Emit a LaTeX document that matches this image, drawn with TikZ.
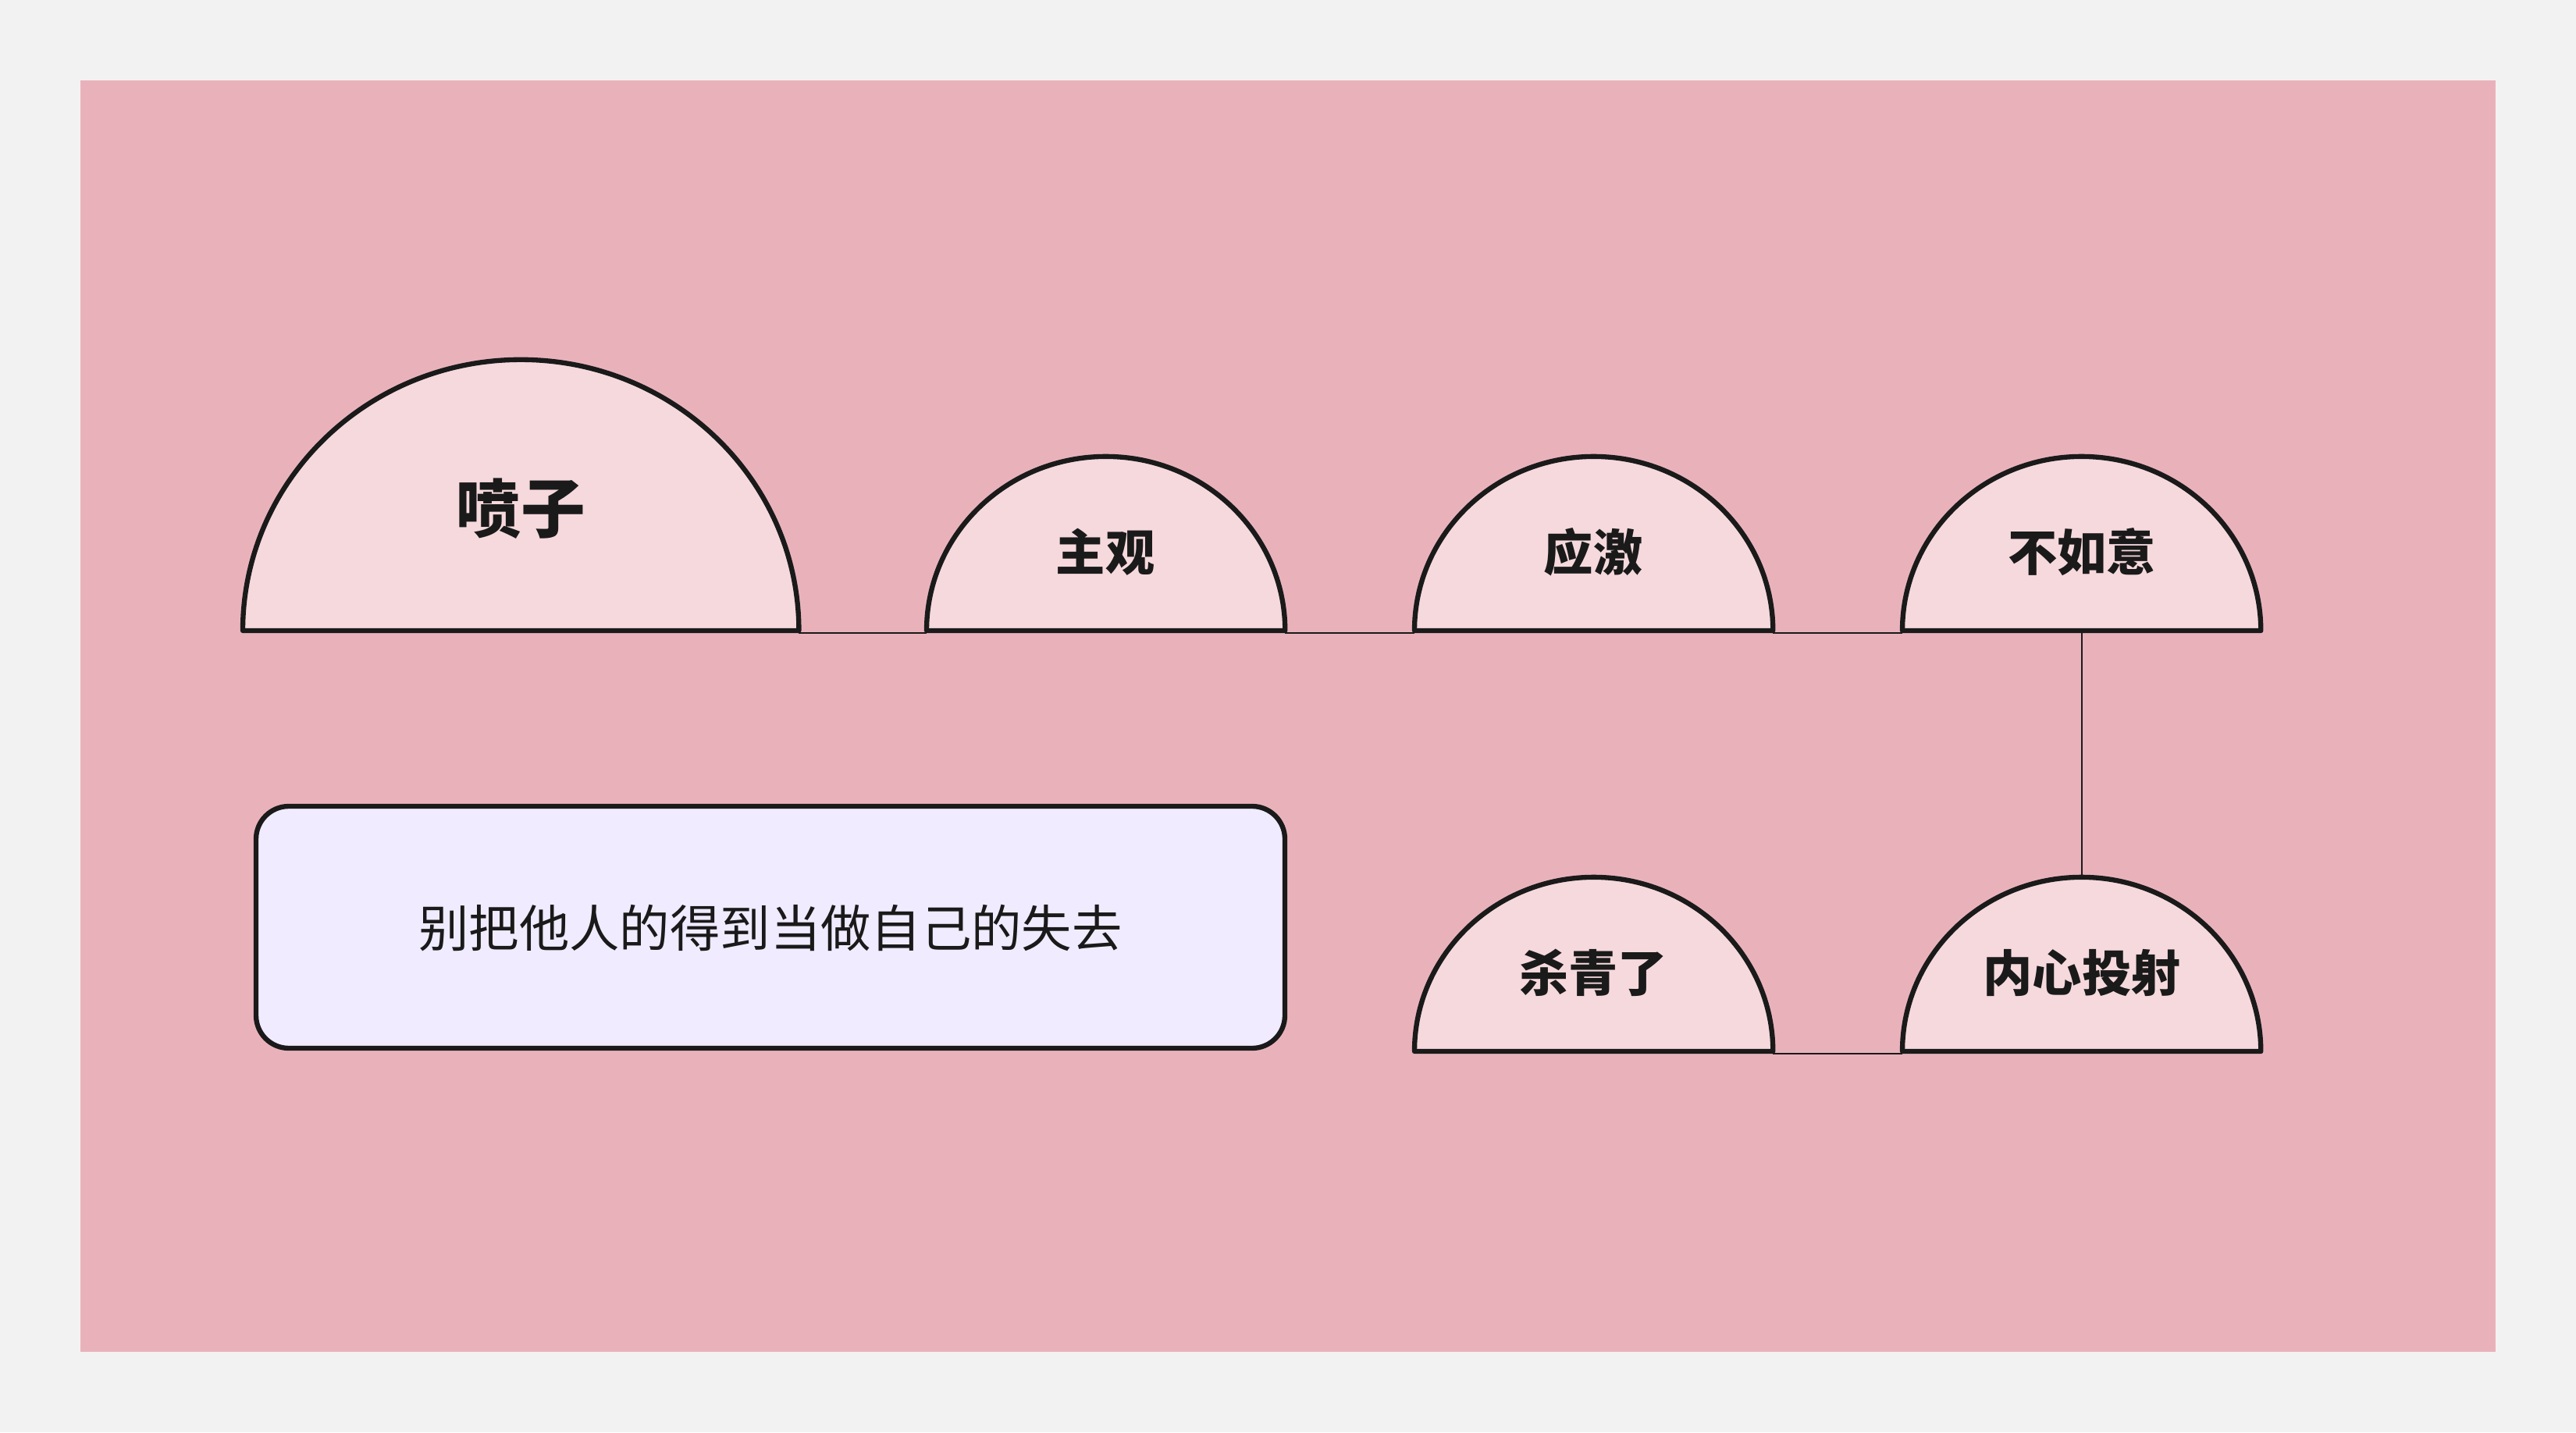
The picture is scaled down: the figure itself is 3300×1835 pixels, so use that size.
\documentclass[tikz,border=0pt]{standalone}
\usepackage{fontspec}
\newfontfamily\cjk{Noto Sans CJK SC}
\definecolor{outerbg}{HTML}{F2F2F2}
\definecolor{pinkbg}{HTML}{E9B2BB}
\definecolor{domefill}{HTML}{F6D9DD}
\definecolor{boxfill}{HTML}{F0EBFE}
\definecolor{ink}{HTML}{1A1A1A}
\tikzset{
  dome/.style={draw=ink, line width=1.8pt, fill=domefill, line join=round},
  conn/.style={draw=ink, line width=0.7pt},
  lbl/.style={text=ink, inner sep=0pt, font=\cjk\bfseries\fontsize{18}{22}\selectfont},
  bigl/.style={lbl, font=\cjk\bfseries\fontsize{23.5}{28}\selectfont},
  notebox/.style={draw=ink, line width=1.8pt, fill=boxfill, rounded corners=0.42cm}
}
\begin{document}
\begin{tikzpicture}[x=0.01cm, y=0.01cm]
  \fill[outerbg] (0,0) rectangle (3300,1835);
  \useasboundingbox (0,0) rectangle (3300,1835);
  \fill[pinkbg] (103,103) rectangle (3197,1732);

  % base coordinates
  \coordinate (pz-l) at (311,1027);  \coordinate (pz-r) at (1023,1027);
  \coordinate (zg-l) at (1187,1027); \coordinate (zg-r) at (1646,1027);
  \coordinate (yj-l) at (1812,1027); \coordinate (yj-r) at (2271,1027);
  \coordinate (br-l) at (2437,1027); \coordinate (br-r) at (2896,1027);
  \coordinate (br-b) at (2667,1027);
  \coordinate (sq-l) at (1812,488);  \coordinate (sq-r) at (2271,488);
  \coordinate (nx-l) at (2437,488);  \coordinate (nx-r) at (2896,488);
  \coordinate (nx-t) at (2667,711);

  % connectors
  \draw[conn] ([yshift=-0.03cm]pz-r) -- ([yshift=-0.03cm]zg-l);
  \draw[conn] ([yshift=-0.03cm]zg-r) -- ([yshift=-0.03cm]yj-l);
  \draw[conn] ([yshift=-0.03cm]yj-r) -- ([yshift=-0.03cm]br-l);
  \draw[conn] (br-b) -- (nx-t);
  \draw[conn] ([yshift=-0.03cm]nx-l) -- ([yshift=-0.03cm]sq-r);

  % domes
  \draw[dome] (pz-l) arc[start angle=180, end angle=0, x radius=3.56cm, y radius=3.47cm] -- cycle;
  \draw[dome] (zg-l) arc[start angle=180, end angle=0, x radius=2.295cm, y radius=2.23cm] -- cycle;
  \draw[dome] (yj-l) arc[start angle=180, end angle=0, x radius=2.295cm, y radius=2.23cm] -- cycle;
  \draw[dome] (br-l) arc[start angle=180, end angle=0, x radius=2.295cm, y radius=2.23cm] -- cycle;
  \draw[dome] (sq-l) arc[start angle=180, end angle=0, x radius=2.295cm, y radius=2.23cm] -- cycle;
  \draw[dome] (nx-l) arc[start angle=180, end angle=0, x radius=2.295cm, y radius=2.23cm] -- cycle;

  % labels
  \node[bigl] (pz) at (667,1183) {喷子};
  \node[lbl] (zg) at (1416,1128) {主观};
  \node[lbl] (yj) at (2041,1128) {应激};
  \node[lbl] (br) at (2667,1128) {不如意};
  \node[lbl] (sq) at (2041,589) {杀青了};
  \node[lbl] (nx) at (2667,589) {内心投射};

  % note box
  \draw[notebox] (328,492) rectangle (1646,802);
  \node[text=ink, inner sep=0pt, font=\cjk\fontsize{18.3}{22}\selectfont] (note) at (987,646) {别把他人的得到当做自己的失去};
\end{tikzpicture}
\end{document}
